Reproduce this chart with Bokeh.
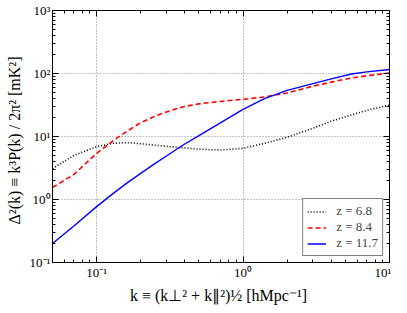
from bokeh.plotting import figure
from bokeh.models import LogAxis, FixedTicker, CustomJSTickFormatter, Legend, LegendItem
from bokeh.embed import file_html
from bokeh.resources import INLINE

k = [0.05, 0.07, 0.1, 0.13, 0.16, 0.2, 0.25, 0.3, 0.36, 0.4, 0.5, 0.7, 1.0, 1.4, 2.0, 3.0, 4.0, 5.5, 7.0, 10.0]
z68 = [3.1, 5.0, 6.9, 7.8, 8.0, 7.7, 7.3, 7.0, 6.7, 6.6, 6.3, 6.1, 6.5, 7.8, 9.7, 13.5, 17.5, 22.0, 26.0, 31.5]
z84 = [1.55, 2.5, 5.4, 8.6, 12.0, 16.5, 21.0, 24.5, 28.0, 30.0, 33.0, 36.0, 39.0, 42.5, 49.0, 63.0, 73.0, 85.0, 92.0, 102.0]
z117 = [0.20, 0.38, 0.77, 1.25, 1.80, 2.6, 3.7, 4.9, 6.5, 7.6, 10.3, 16.5, 27.0, 40.0, 54.0, 69.0, 82.0, 98.0, 106.0, 116.0]
labels = ["z = 6.8", "z = 8.4", "z = 11.7"]

FONT = "Liberation Serif"

p = figure(frame_width=337, frame_height=252, x_axis_type="log", y_axis_type="log",
           x_range=(0.05, 10), y_range=(0.1, 1000),
           output_backend="svg", toolbar_location=None,
           min_border_left=52, min_border_right=2, min_border_top=10, min_border_bottom=38)

xmaj = [0.1, 1, 10]
xmin = [m * d for d in (0.01, 0.1, 1) for m in range(2, 10)]
ymaj = [0.1, 1, 10, 100, 1000]
ymin = [m * d for d in (0.1, 1, 10, 100) for m in range(2, 10)]

fmt = CustomJSTickFormatter(code="""
const sup = {'-':'\u207b','0':'\u2070','1':'\u00b9','2':'\u00b2','3':'\u00b3'};
const e = Math.round(Math.log10(tick));
return '10' + String(e).split('').map(c => sup[c]).join('');
""")
blank = CustomJSTickFormatter(code="return '';")

def style(ax, ticks, minors, show):
    ax.ticker = FixedTicker(ticks=ticks, minor_ticks=minors)
    ax.formatter = fmt if show else blank
    ax.major_tick_in = 6
    ax.major_tick_out = 0
    ax.minor_tick_in = 3
    ax.minor_tick_out = 0
    ax.axis_line_color = "black"
    ax.major_tick_line_color = "black"
    ax.minor_tick_line_color = "black"
    ax.major_label_text_font = FONT
    ax.major_label_text_font_size = "13px"
    ax.major_label_text_color = "black"
    ax.major_label_standoff = 2 if show else 0
    ax.axis_label_text_font = FONT
    ax.axis_label_text_font_size = "16px"
    ax.axis_label_text_font_style = "normal"
    ax.axis_label_text_color = "black"

style(p.xaxis[0], xmaj, xmin, True)
style(p.yaxis[0], ymaj, ymin, True)
p.xaxis[0].axis_label = "k \u2261 (k\u22a5\u00b2 + k\u2225\u00b2)\u00bd   [hMpc\u207b\u00b9]"
p.yaxis[0].axis_label = "\u0394\u00b2(k) \u2261 k\u00b3P(k) / 2\u03c0\u00b2   [mK\u00b2]"
p.xaxis[0].axis_label_standoff = 4
p.yaxis[0].axis_label_standoff = 4

ra = LogAxis()
style(ra, ymaj, ymin, False)
p.add_layout(ra, "right")
ta = LogAxis()
style(ta, xmaj, xmin, False)
p.add_layout(ta, "above")

p.xgrid.ticker = FixedTicker(ticks=xmaj)
p.ygrid.ticker = FixedTicker(ticks=ymaj)
for g in (p.xgrid, p.ygrid):
    g.grid_line_color = "#888888"
    g.grid_line_dash = "1 2"
    g.grid_line_width = 1
p.outline_line_color = "black"

r1 = p.line(k, z68, line_color="black", line_width=1.6, line_dash="1 2")
r2 = p.line(k, z84, line_color="#ff0000", line_width=1.6, line_dash="5 3")
r3 = p.line(k, z117, line_color="#0000ff", line_width=1.4)

legend = Legend(items=[LegendItem(label=labels[0], renderers=[r1]),
                       LegendItem(label=labels[1], renderers=[r2]),
                       LegendItem(label=labels[2], renderers=[r3])],
                location="bottom_right")
legend.label_text_font = FONT
legend.label_text_font_size = "13px"
legend.label_height = 13
legend.glyph_height = 13
legend.glyph_width = 19
legend.label_standoff = 10
legend.spacing = 0
legend.padding = 4
legend.margin = 6
legend.border_line_color = "black"
legend.border_line_width = 1
legend.background_fill_alpha = 1
p.add_layout(legend)

open("out.html", "w").write(file_html(p, INLINE))
